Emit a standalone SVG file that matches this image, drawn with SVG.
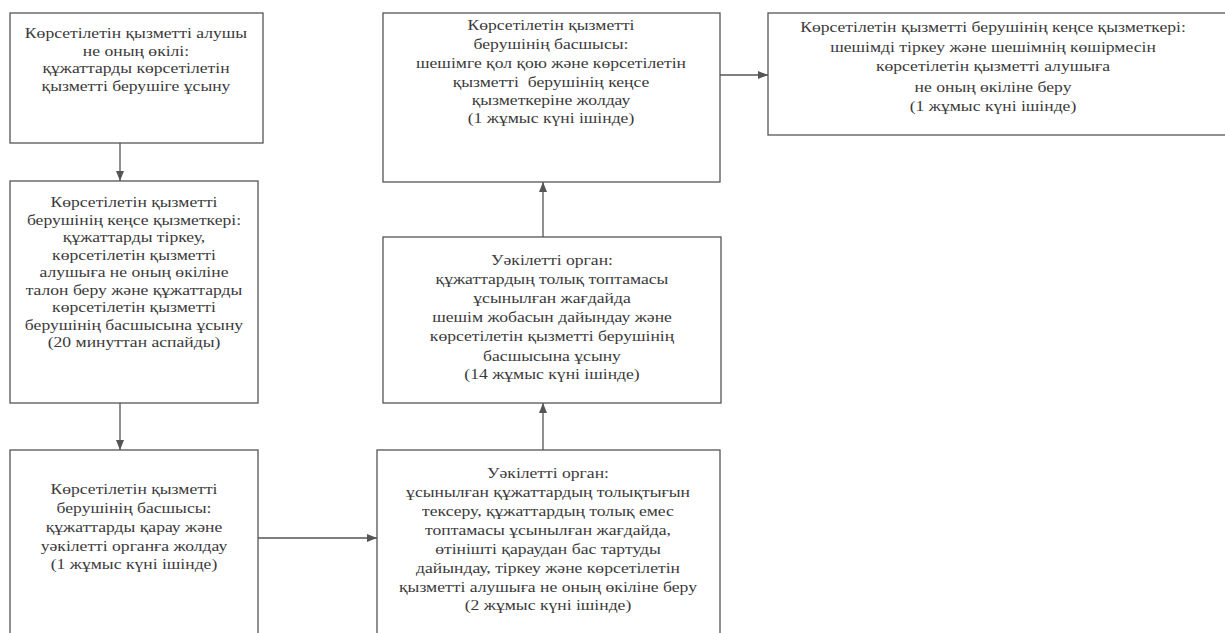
<svg xmlns="http://www.w3.org/2000/svg" width="1225" height="633" viewBox="0 0 1225 633">
<defs>
<style>
.box{fill:#ffffff;stroke:#555555;stroke-width:1.3}
.t{font-family:'Liberation Serif','Times New Roman','DejaVu Serif',serif;font-size:17.6px;fill:#3a3a3a;text-anchor:middle}
.c{stroke:#555555;stroke-width:1.3;fill:none}
</style>
<marker id="ah" markerWidth="10" markerHeight="8" refX="10" refY="4" orient="auto" markerUnits="userSpaceOnUse">
<path d="M0,0 L10,4 L0,8 Z" fill="#555555"/>
</marker>
</defs>
<rect width="1225" height="633" fill="#ffffff"/>
<g id="connectors">
<line class="c" x1="120" y1="143" x2="120" y2="181" marker-end="url(#ah)"/>
<line class="c" x1="120" y1="403" x2="120" y2="450" marker-end="url(#ah)"/>
<line class="c" x1="258" y1="538" x2="377" y2="538" marker-end="url(#ah)"/>
<line class="c" x1="543" y1="450" x2="543" y2="403" marker-end="url(#ah)"/>
<line class="c" x1="543" y1="237" x2="543" y2="182" marker-end="url(#ah)"/>
<line class="c" x1="720" y1="75" x2="768" y2="75" marker-end="url(#ah)"/>
</g>
<g id="node1">
<rect class="box" x="10" y="13" width="253" height="130"/>
<text class="t" transform="translate(136,38) scale(1,0.85)">Көрсетілетін қызметті алушы</text>
<text class="t" transform="translate(136,56) scale(1,0.85)">не оның өкілі:</text>
<text class="t" transform="translate(136,73) scale(1,0.85)">құжаттарды көрсетілетін</text>
<text class="t" transform="translate(136,91) scale(1,0.85)">қызметті берушіге ұсыну</text>
</g>
<g id="node2">
<rect class="box" x="10" y="181" width="248" height="222"/>
<text class="t" transform="translate(134,207) scale(1,0.85)">Көрсетілетін қызметті</text>
<text class="t" transform="translate(134,224.5) scale(1,0.85)">берушінің кеңсе қызметкері:</text>
<text class="t" transform="translate(134,242) scale(1,0.85)">құжаттарды тіркеу,</text>
<text class="t" transform="translate(134,259.5) scale(1,0.85)">көрсетілетін қызметті</text>
<text class="t" transform="translate(134,277) scale(1,0.85)">алушыға не оның өкіліне</text>
<text class="t" transform="translate(134,294.5) scale(1,0.85)">талон беру және құжаттарды</text>
<text class="t" transform="translate(134,312) scale(1,0.85)">көрсетілетін қызметті</text>
<text class="t" transform="translate(134,329.5) scale(1,0.85)">берушінің басшысына ұсыну</text>
<text class="t" transform="translate(134,347) scale(1,0.85)">(20 минуттан аспайды)</text>
</g>
<g id="node3">
<rect class="box" x="10" y="450" width="248" height="200"/>
<text class="t" transform="translate(134,494) scale(1,0.85)">Көрсетілетін қызметті</text>
<text class="t" transform="translate(134,513) scale(1,0.85)">берушінің басшысы:</text>
<text class="t" transform="translate(134,531.5) scale(1,0.85)">құжаттарды қарау және</text>
<text class="t" transform="translate(134,550.5) scale(1,0.85)">уәкілетті органға жолдау</text>
<text class="t" transform="translate(134,569) scale(1,0.85)">(1 жұмыс күні ішінде)</text>
</g>
<g id="node4">
<rect class="box" x="377" y="450" width="343" height="200"/>
<text class="t" transform="translate(548,478) scale(1,0.85)">Уәкілетті орган:</text>
<text class="t" transform="translate(548,497) scale(1,0.85)">ұсынылған құжаттардың толықтығын</text>
<text class="t" transform="translate(548,516) scale(1,0.85)">тексеру, құжаттардың толық емес</text>
<text class="t" transform="translate(548,534.5) scale(1,0.85)">топтамасы ұсынылған жағдайда,</text>
<text class="t" transform="translate(548,553.5) scale(1,0.85)">өтінішті қараудан бас тартуды</text>
<text class="t" transform="translate(548,572.5) scale(1,0.85)">дайындау, тіркеу және көрсетілетін</text>
<text class="t" transform="translate(548,591.5) scale(1,0.85)">қызметті алушыға не оның өкіліне беру</text>
<text class="t" transform="translate(548,610) scale(1,0.85)">(2 жұмыс күні ішінде)</text>
</g>
<g id="node5">
<rect class="box" x="383" y="237" width="338" height="166"/>
<text class="t" transform="translate(552,265) scale(1,0.85)">Уәкілетті орган:</text>
<text class="t" transform="translate(552,283.5) scale(1,0.85)">құжаттардың толық топтамасы</text>
<text class="t" transform="translate(552,303) scale(1,0.85)">ұсынылған жағдайда</text>
<text class="t" transform="translate(552,322) scale(1,0.85)">шешім жобасын дайындау және</text>
<text class="t" transform="translate(552,341) scale(1,0.85)">көрсетілетін қызметті берушінің</text>
<text class="t" transform="translate(552,361) scale(1,0.85)">басшысына ұсыну</text>
<text class="t" transform="translate(552,379) scale(1,0.85)">(14 жұмыс күні ішінде)</text>
</g>
<g id="node6">
<rect class="box" x="383" y="13" width="337" height="169"/>
<text class="t" transform="translate(551,30) scale(1,0.85)">Көрсетілетін қызметті</text>
<text class="t" transform="translate(551,48.5) scale(1,0.85)">берушінің басшысы:</text>
<text class="t" transform="translate(551,68) scale(1,0.85)">шешімге қол қою және көрсетілетін</text>
<text class="t" transform="translate(551,86.5) scale(1,0.85)" xml:space="preserve">қызметті  берушінің кеңсе</text>
<text class="t" transform="translate(551,105) scale(1,0.85)">қызметкеріне жолдау</text>
<text class="t" transform="translate(551,123) scale(1,0.85)">(1 жұмыс күні ішінде)</text>
</g>
<g id="node7">
<rect class="box" x="768" y="13" width="470" height="122"/>
<text class="t" transform="translate(993,32) scale(1,0.85)">Көрсетілетін қызметті берушінің кеңсе қызметкері:</text>
<text class="t" transform="translate(993,52) scale(1,0.85)">шешімді тіркеу және шешімнің көшірмесін</text>
<text class="t" transform="translate(993,71) scale(1,0.85)">көрсетілетін қызметті алушыға</text>
<text class="t" transform="translate(993,92) scale(1,0.85)">не оның өкіліне беру</text>
<text class="t" transform="translate(993,111) scale(1,0.85)">(1 жұмыс күні ішінде)</text>
</g>
</svg>
